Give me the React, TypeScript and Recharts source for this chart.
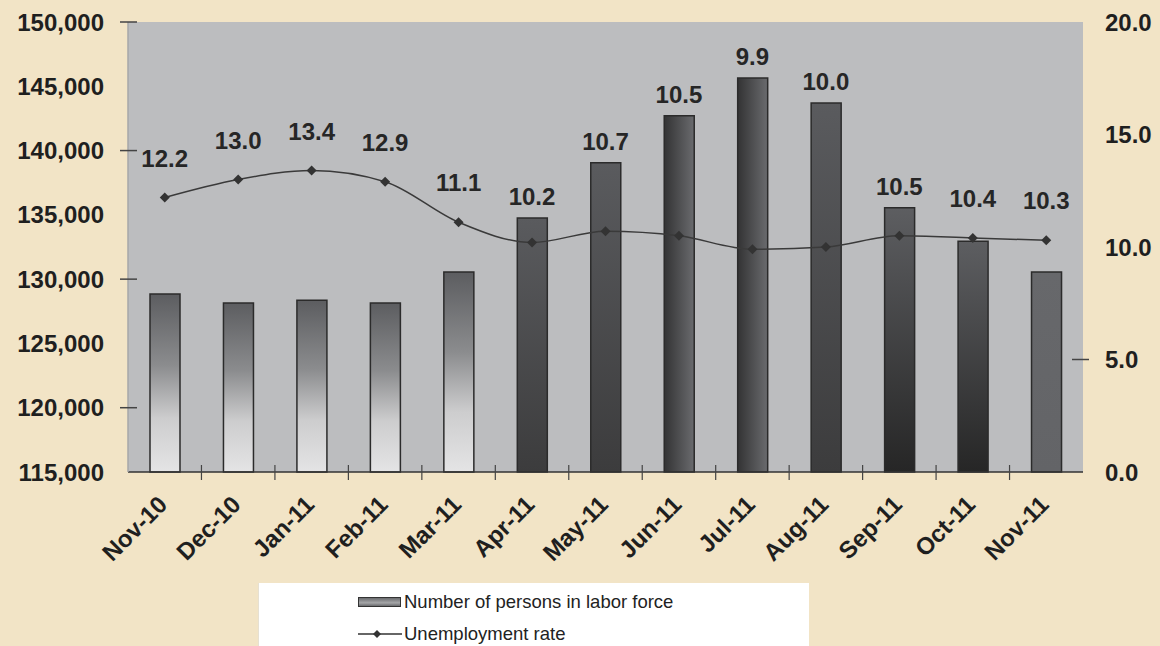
import React from 'react';
import { ComposedChart, Bar, Line, XAxis, YAxis, CartesianGrid, Cell, LabelList } from 'recharts';

// values
const months = ['Nov-10', 'Dec-10', 'Jan-11', 'Feb-11', 'Mar-11', 'Apr-11', 'May-11', 'Jun-11', 'Jul-11', 'Aug-11', 'Sep-11', 'Oct-11', 'Nov-11'];
const laborForce = [128850, 128150, 128350, 128150, 130550, 134750, 139050, 142700, 145650, 143700, 135550, 132950, 130550];
const unemploymentRate = [12.2, 13.0, 13.4, 12.9, 11.1, 10.2, 10.7, 10.5, 9.9, 10.0, 10.5, 10.4, 10.3];
const laborTicks = [115000, 120000, 125000, 130000, 135000, 140000, 145000, 150000];
const rateTicks = [0, 5, 10, 15, 20];

// shading used on each bar in the source chart
const barFills = ['fadeLight', 'fadeLight', 'fadeLight', 'fadeLight', 'fadeLight', 'darkFlat', 'darkFlat', 'sideShade', 'sideShade', 'darkFlat', 'fadeDark', 'fadeDark', 'plain'];

const FONT = '"Liberation Sans", Arial, sans-serif';
const INK = '#1f1f1f';

// bar height expressed on the rate axis, so labels can sit above whichever is higher
const toRateScale = (v: number) => (v - 115000) / 1750;

const data = months.map((m, i) => ({
  month: m,
  labor: laborForce[i],
  rate: unemploymentRate[i],
  labelAnchor: Math.max(unemploymentRate[i], toRateScale(laborForce[i])),
}));

const LaborTick = (props: any) => {
  const { x, y, payload } = props;
  const major = (payload.value - 120000) % 10000 === 0;
  return (
    <g>
      {major && <line x1={x + 16} y1={y} x2={x + 33} y2={y} stroke="#444" strokeWidth={1.5} />}
      <text x={x} y={y} dy="0.36em" textAnchor="end" fontFamily={FONT} fontWeight="bold" fontSize={24} fill={INK}>
        {payload.value.toLocaleString('en-US')}
      </text>
    </g>
  );
};

const RateTick = (props: any) => {
  const { x, y, payload } = props;
  return (
    <g>
      {payload.value === 5 && <line x1={x - 33} y1={y} x2={x - 16} y2={y} stroke="#444" strokeWidth={1.5} />}
      <text x={x} y={y} dy="0.36em" textAnchor="start" fontFamily={FONT} fontWeight="bold" fontSize={24} fill={INK}>
        {payload.value.toFixed(1)}
      </text>
    </g>
  );
};

const MonthTick = (props: any) => {
  const { x, y, payload } = props;
  const half = payload.offset || 36.7;
  const idx = months.indexOf(payload.value);
  return (
    <g>
      {idx < months.length - 1 && (
        <line x1={x + half} y1={y - 7} x2={x + half} y2={y + 8} stroke="#444" strokeWidth={1.2} />
      )}
      <text
        transform={`translate(${x + 4},${y + 34}) rotate(-45)`}
        textAnchor="end"
        fontFamily={FONT}
        fontWeight="bold"
        fontSize={24}
        fill={INK}
      >
        {payload.value}
      </text>
    </g>
  );
};

const Diamond = (props: any) => {
  const { cx, cy } = props;
  if (cx == null || cy == null) return null;
  return <polygon points={`${cx},${cy - 5} ${cx + 5},${cy} ${cx},${cy + 5} ${cx - 5},${cy}`} fill="#333" />;
};

const RateLabel = (props: any) => {
  const { x, y, index } = props;
  const onLine = unemploymentRate[index] >= toRateScale(laborForce[index]);
  return (
    <text x={x} y={onLine ? y - 31 : y - 13} textAnchor="middle" fontFamily={FONT} fontWeight="bold" fontSize={24} fill="#262626">
      {unemploymentRate[index].toFixed(1)}
    </text>
  );
};

const Legend = () => (
  <div
    style={{
      position: 'absolute',
      left: 258,
      top: 583,
      width: 550,
      height: 63,
      background: '#ffffff',
      borderLeft: '1px solid #e6e0d2',
      fontFamily: FONT,
      fontSize: 18.5,
      color: '#222',
    }}
  >
    <div style={{ position: 'absolute', left: 99, top: 8, display: 'flex', alignItems: 'center' }}>
      <div
        style={{
          width: 41,
          height: 8,
          border: '1px solid #333',
          background: 'linear-gradient(to bottom, #6a6b6e, #a5a6a8 60%, #6a6b6e)',
          marginRight: 3,
        }}
      />
      <span>Number of persons in labor force</span>
    </div>
    <div style={{ position: 'absolute', left: 99, top: 40, display: 'flex', alignItems: 'center' }}>
      <svg width={44} height={12} style={{ marginRight: 2 }}>
        <line x1={0} y1={6} x2={44} y2={6} stroke="#333" strokeWidth={1.5} />
        <polygon points="19,2 23,6 19,10 15,6" fill="#333" />
      </svg>
      <span>Unemployment rate</span>
    </div>
  </div>
);

export default function App() {
  return (
    <div style={{ position: 'absolute', left: 0, top: 0, width: 1160, height: 646, background: '#f2e4c6', overflow: 'hidden' }}>
      <ComposedChart width={1160} height={646} data={data} margin={{ top: 22, right: 0, left: 0, bottom: 0 }}>
        <defs>
          <linearGradient id="fadeLight" x1="0" y1="0" x2="0" y2="1">
            <stop offset="0%" stopColor="#5c5d60" />
            <stop offset="40%" stopColor="#8b8c8e" />
            <stop offset="70%" stopColor="#cdcdce" />
            <stop offset="100%" stopColor="#e4e4e5" />
          </linearGradient>
          <linearGradient id="darkFlat" x1="0" y1="0" x2="0" y2="1">
            <stop offset="0%" stopColor="#5a5b5e" />
            <stop offset="100%" stopColor="#3c3c3d" />
          </linearGradient>
          <linearGradient id="sideShade" x1="0" y1="0" x2="1" y2="0">
            <stop offset="0%" stopColor="#333334" />
            <stop offset="100%" stopColor="#6a6b6e" />
          </linearGradient>
          <linearGradient id="fadeDark" x1="0" y1="0" x2="0" y2="1">
            <stop offset="0%" stopColor="#5d5e61" />
            <stop offset="100%" stopColor="#262626" />
          </linearGradient>
          <linearGradient id="plain" x1="0" y1="0" x2="0" y2="1">
            <stop offset="0%" stopColor="#67686b" />
            <stop offset="100%" stopColor="#636467" />
          </linearGradient>
        </defs>
        <CartesianGrid fill="#bcbdbf" stroke="none" yAxisId="left" />
        <XAxis
          dataKey="month"
          height={174}
          interval={0}
          tickSize={0}
          tickMargin={0}
          axisLine={{ stroke: '#333', strokeWidth: 1.5 }}
          tick={<MonthTick />}
        />
        <XAxis xAxisId="top" dataKey="month" orientation="top" height={0} tick={false} tickLine={false} axisLine={{ stroke: '#a6a7a9', strokeWidth: 1.5 }} />
        <YAxis
          yAxisId="left"
          width={128}
          domain={[115000, 150000]}
          ticks={laborTicks}
          interval={0}
          tickSize={0}
          tickMargin={24}
          axisLine={{ stroke: '#a6a7a9', strokeWidth: 1.5 }}
          tickLine={false}
          tick={<LaborTick />}
        />
        <YAxis
          yAxisId="right"
          orientation="right"
          width={77}
          domain={[0, 20]}
          ticks={rateTicks}
          interval={0}
          tickSize={0}
          tickMargin={22}
          axisLine={false}
          tickLine={false}
          tick={<RateTick />}
        />
        <Bar yAxisId="left" dataKey="labor" barSize={30} stroke="#2b2b2b" strokeWidth={1.5} isAnimationActive={false}>
          {data.map((_, i) => (
            <Cell key={`bar-${i}`} fill={`url(#${barFills[i]})`} />
          ))}
        </Bar>
        <Line
          yAxisId="right"
          type="monotone"
          dataKey="rate"
          stroke="#3a3a3a"
          strokeWidth={1.5}
          dot={<Diamond />}
          activeDot={false}
          isAnimationActive={false}
        />
        <Line
          yAxisId="right"
          dataKey="labelAnchor"
          stroke="none"
          dot={false}
          activeDot={false}
          isAnimationActive={false}
        >
          <LabelList dataKey="labelAnchor" content={<RateLabel />} />
        </Line>
      </ComposedChart>
      <Legend />
    </div>
  );
}
